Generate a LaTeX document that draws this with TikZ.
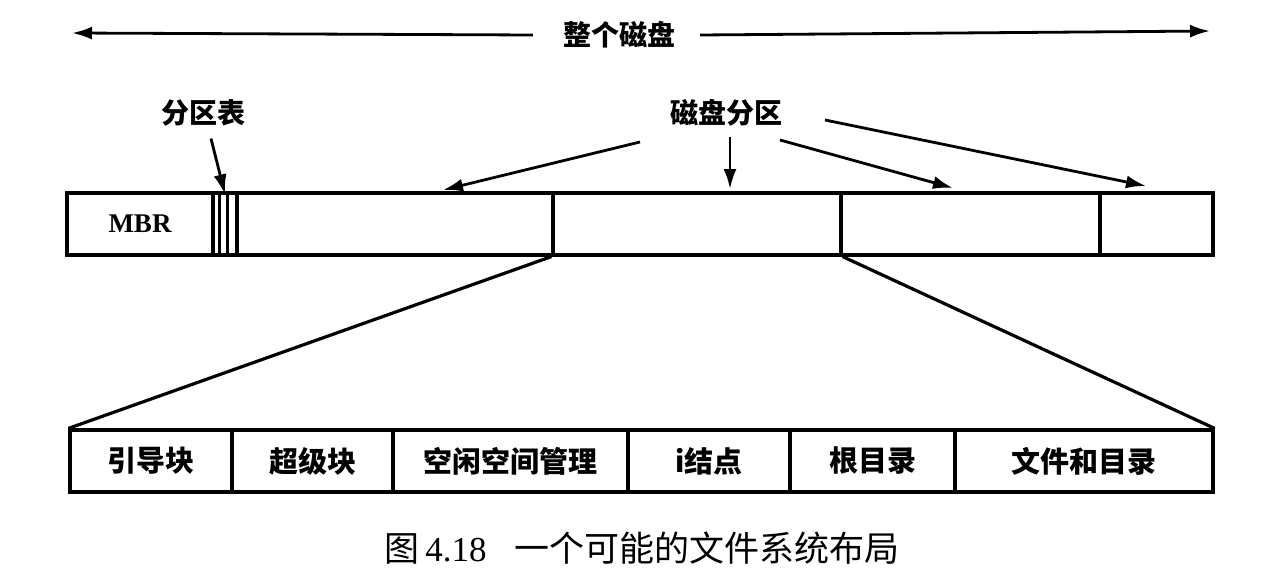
\documentclass[tikz,border=0pt]{standalone}
\usepackage{fontspec}
\setmainfont{Liberation Serif}
\newfontfamily\cjk{Noto Sans CJK SC}
\usetikzlibrary{arrows.meta}
\tikzset{
  cell/.style={draw, line width=3.2pt, minimum height=62pt, inner sep=0pt, anchor=center},
  lbl/.style={font=\cjk\bfseries\fontsize{28}{30}\selectfont, inner sep=0pt},
  blbl/.style={font=\cjk\bfseries\fontsize{29}{31}\selectfont, inner sep=0pt},
  arr/.style={line width=2.8pt, -{Latex[length=20pt,width=13pt]}},
  tline/.style={line width=3.2pt},
}
\begin{document}
\begin{tikzpicture}[x=1pt,y=-1pt]
\useasboundingbox (0,0) rectangle (1282,586);
% whole disk
\node[lbl] (whole) at (619,35) {整个磁盘};
\coordinate (wl) at (72,33);
\coordinate (wr) at (1210,31);
\draw[arr] ([xshift=-30pt]whole.west) -- (wl);
\draw[arr] ([xshift=25pt]whole.east) -- (wr);
% top bar
\node[cell, minimum width=146pt, font=\bfseries\fontsize{27}{30}\selectfont] (mbr) at (140,224) {MBR};
\node[cell, minimum width=24pt] (pt) at (225,224) {};
\node[cell, minimum width=316pt] (p1) at (395,224) {};
\node[cell, minimum width=288pt] (p2) at (697,224) {};
\node[cell, minimum width=259pt] (p3) at (970.5,224) {};
\node[cell, minimum width=113pt] (p4) at (1156.5,224) {};
\draw[line width=2.4pt] ([xshift=8pt]pt.north west) -- ([xshift=8pt]pt.south west);
\draw[line width=2.4pt] ([xshift=16pt]pt.north west) -- ([xshift=16pt]pt.south west);
% partition table label
\node[lbl] (ptl) at (203,113) {分区表};
\draw[arr] ([xshift=8pt,yshift=-12pt]ptl.south) -- ([xshift=0pt,yshift=-3pt]pt.north);
% disk partitions label
\node[lbl] (dp) at (726,113) {磁盘分区};
\coordinate (a1) at (443,190);
\coordinate (a2) at (730,189);
\coordinate (a3) at (953,188);
\coordinate (a4) at (1146,186);
\draw[arr] (640,142) -- (a1);
\draw[arr] ([xshift=4pt,yshift=-10pt]dp.south) -- (a2);
\draw[arr] (780,140) -- (a3);
\draw[arr] (825,120) -- (a4);
% bottom bar
\node[cell, minimum width=162pt, blbl] (b1) at (151,461) {引导块};
\node[cell, minimum width=161pt, blbl] (b2) at (312.5,461) {超级块};
\node[cell, minimum width=235pt, blbl] (b3) at (510.5,461) {空闲空间管理};
\node[cell, minimum width=162pt, blbl] (b4) at (709,461) {i结点};
\node[cell, minimum width=165pt, blbl] (b5) at (872.5,461) {根目录};
\node[cell, minimum width=258pt, blbl] (b6) at (1084,461) {文件和目录};
% zoom lines
\draw[tline] (p2.south west) -- (b1.north west);
\draw[tline] (p2.south east) -- (b6.north east);
% caption
\node[inner sep=0pt, font=\fontsize{35}{38}\selectfont] (cap) at (642,548) {{\cjk 图}\,4.18\hspace{28pt}{\cjk 一个可能的文件系统布局}};
\end{tikzpicture}
\end{document}
